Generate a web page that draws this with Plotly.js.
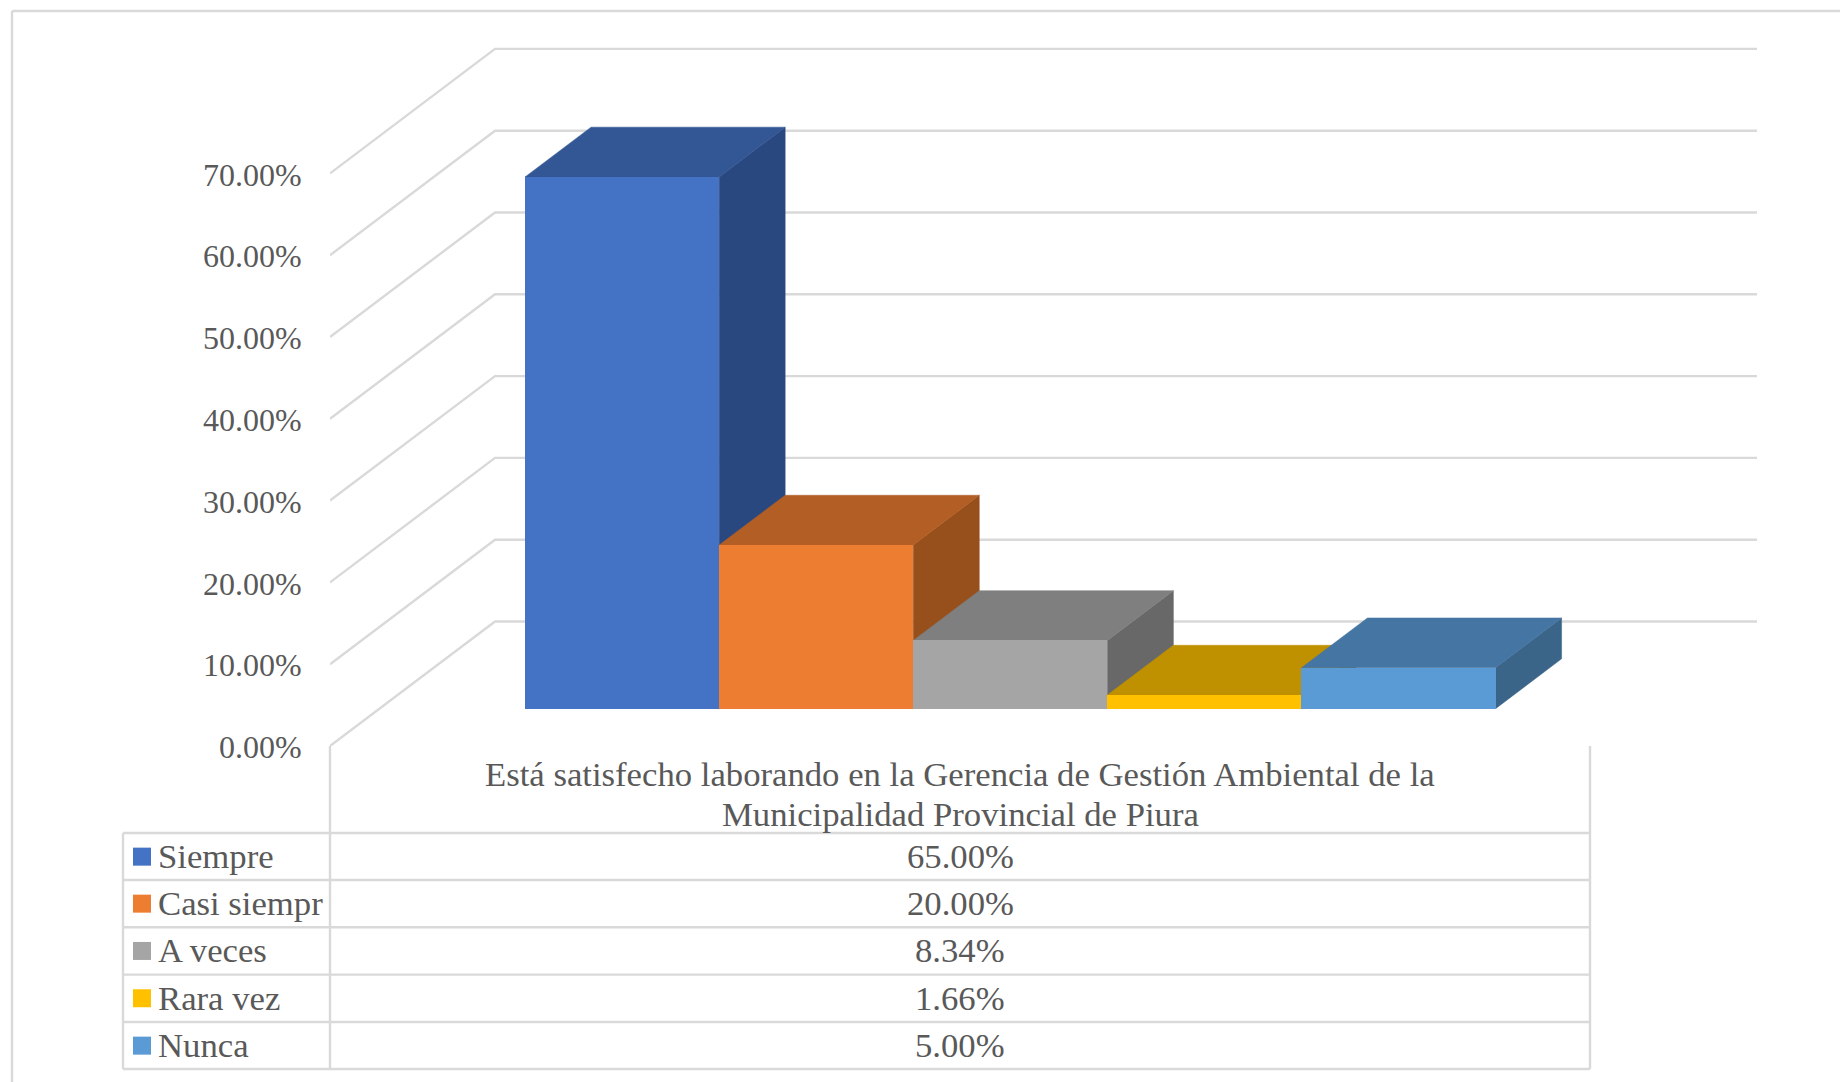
<!DOCTYPE html>
<html>
<head>
<meta charset="utf-8">
<script src="https://cdn.plot.ly/plotly-3.0.1.min.js"></script>
<style>html,body{margin:0;padding:0;background:#fff}</style>
</head>
<body>
<div id="chart" style="width:1840px;height:1082px"></div>
<script>
// Survey answers, in percent
const seriesNames = ['Siempre', 'Casi siempr', 'A veces', 'Rara vez', 'Nunca'];
const seriesValues = [65, 20, 8.34, 1.66, 5];
const frontColors = ['#4472C4', '#ED7D31', '#A5A5A5', '#FFC000', '#5B9BD5'];
const topColors = ['#335694', '#B25E25', '#7F7F7F', '#BF9000', '#4575A2'];
const sideColors = ['#2A4880', '#974F1C', '#686868', '#A07800', '#3A6488'];
const axisTicks = [0, 10, 20, 30, 40, 50, 60, 70];
const categoryTitleLines = ['Está satisfecho laborando en la Gerencia de Gestión Ambiental de la', 'Municipalidad Provincial de Piura'];

const W = 1840, H = 1082;
const px = v => v / W;
const py = v => 1 - v / H;

// Pixel frame of the oblique projection
const plotLeft = 330, plotRight = 1757, plotTop = 46, plotBottom = 746;
const pxPerPct = 8.18;
const barPx = 194.1;

// Depth shift from front plane to back wall, in axis units
const depthX = 165 / barPx;
const depthY = 124.5 / pxPerPct;
const xMin = -0.75;
const xMax = xMin + (plotRight - plotLeft) / barPx;
const yMax = (plotBottom - plotTop) / pxPerPct;
const barFront = 0.3, barBack = 0.7;

const project = (x, v, d) => [x + d * depthX, v + d * depthY];

function polygon(points, color) {
  const p = points.map(q => project(q[0], q[1], q[2]));
  return {
    type: 'scatter', mode: 'lines', x: p.map(q => q[0]).concat(p[0][0]), y: p.map(q => q[1]).concat(p[0][1]),
    fill: 'toself', fillcolor: color, line: {color: color, width: 0.5}, hoverinfo: 'skip',
    showlegend: false, cliponaxis: false
  };
}

const traces = [];

// Back wall gridlines with their run across the side wall
const gx = [], gy = [];
axisTicks.forEach(t => {
  [project(xMin, t, 0), project(xMin, t, 1), [xMax, t + depthY], [null, null]].forEach(q => {
    gx.push(q[0]); gy.push(q[1]);
  });
});
traces.push({type: 'scatter', mode: 'lines', x: gx, y: gy, line: {color: '#D9D9D9', width: 2.4},
  hoverinfo: 'skip', showlegend: false, cliponaxis: false});

// Side and top faces, painted left to right
seriesValues.forEach((v, i) => {
  traces.push(polygon([[i + 1, 0, barFront], [i + 1, 0, barBack], [i + 1, v, barBack], [i + 1, v, barFront]], sideColors[i]));
  traces.push(polygon([[i, v, barFront], [i + 1, v, barFront], [i + 1, v, barBack], [i, v, barBack]], topColors[i]));
});

// Front faces live on an overlaid subplot so they sit above every other face
seriesValues.forEach((v, i) => {
  traces.push({
    type: 'bar', name: seriesNames[i], x: [i + 0.5 + barFront * depthX], y: [v], base: [barFront * depthY],
    width: [1], marker: {color: frontColors[i], line: {width: 0}}, xaxis: 'x2', yaxis: 'y2',
    hovertemplate: seriesNames[i] + ': %{y:.2f}%<extra></extra>', showlegend: false
  });
});

const gray = '#595959';
const serif = '"Liberation Serif", "Times New Roman", serif';
const textSize = 34.7;
const line = (x0, y0, x1, y1) => ({type: 'line', xref: 'paper', yref: 'paper', layer: 'below',
  x0: px(x0), y0: py(y0), x1: px(x1), y1: py(y1), line: {color: '#D9D9D9', width: 2.4}});

const rowTops = [833, 880, 927.3, 974.6, 1022];
const rowH = 47.3;
const tableLeft = 123, tableMid = 330, tableRight = 1590, tableBottom = 1069;

const shapes = [
  // outer chart frame
  line(12, 11, 1840, 11), line(12, 11, 12, 1082),
  // data table rules
  line(tableMid, 746, tableMid, tableBottom), line(tableRight, 746, tableRight, tableBottom),
  line(tableLeft, rowTops[0], tableLeft, tableBottom)
];
rowTops.concat(tableBottom).forEach(y => shapes.push(line(tableLeft, y, tableRight, y)));

// Category title, one annotation per line for tighter leading
const annotations = categoryTitleLines.map((text, i) => ({
  xref: 'paper', yref: 'paper', x: px(960), y: py(774 + i * 40), xanchor: 'center', yanchor: 'middle', showarrow: false,
  text: text, font: {family: serif, size: textSize, color: gray}
}));

seriesNames.forEach((name, i) => {
  const mid = rowTops[i] + rowH / 2;
  shapes.push({type: 'rect', xref: 'paper', yref: 'paper', x0: px(133), x1: px(151), y0: py(mid - 9), y1: py(mid + 9),
    fillcolor: frontColors[i], line: {width: 0}});
  annotations.push({xref: 'paper', yref: 'paper', x: px(156), y: py(mid), xanchor: 'left', yanchor: 'middle',
    showarrow: false, text: name, font: {family: serif, size: textSize, color: gray}});
  annotations.push({xref: 'paper', yref: 'paper', x: px(960), y: py(mid), xanchor: 'center', yanchor: 'middle',
    showarrow: false, text: seriesValues[i].toFixed(2) + '%', font: {family: serif, size: textSize, color: gray}});
});

const xDomain = [px(plotLeft), px(plotRight)];
const yDomain = [py(plotBottom), py(plotTop)];

const layout = {
  width: W, height: H, autosize: false, margin: {l: 0, r: 0, t: 0, b: 0},
  paper_bgcolor: '#fff', plot_bgcolor: 'rgba(0,0,0,0)', showlegend: false, barmode: 'overlay', bargap: 0,
  xaxis: {domain: xDomain, range: [xMin, xMax], visible: false, fixedrange: true},
  yaxis: {domain: yDomain, range: [0, yMax], tickmode: 'array', tickvals: axisTicks,
    ticktext: axisTicks.map(t => t.toFixed(2) + '%'), ticklabelshift: 1,
    showgrid: false, zeroline: false, showline: false, ticks: 'outside', ticklen: 21, tickcolor: 'rgba(0,0,0,0)',
    tickfont: {family: serif, size: 32, color: gray}, fixedrange: true, anchor: 'x'},
  xaxis2: {domain: xDomain, range: [xMin, xMax], visible: false, overlaying: 'x', matches: 'x', anchor: 'y2', fixedrange: true},
  yaxis2: {domain: yDomain, range: [0, yMax], visible: false, overlaying: 'y', matches: 'y', anchor: 'x2', fixedrange: true},
  shapes: shapes, annotations: annotations
};

Plotly.newPlot('chart', traces, layout, {displayModeBar: false, staticPlot: true});
</script>
</body>
</html>
